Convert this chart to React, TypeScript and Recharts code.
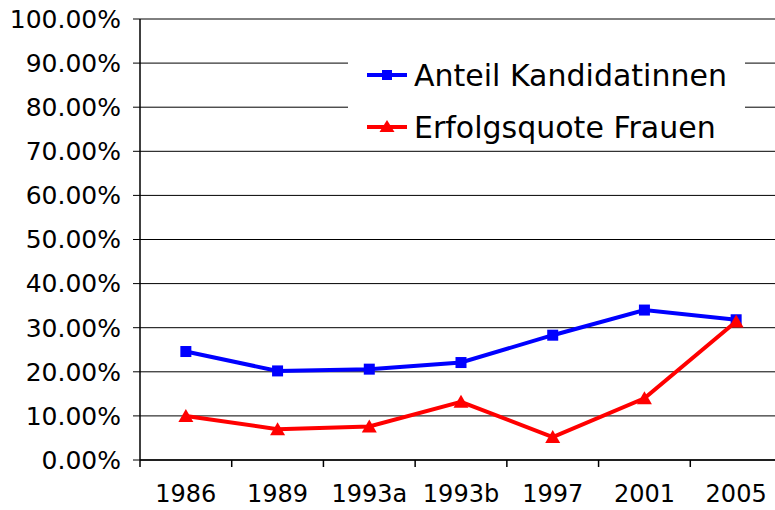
import { LineChart, Line, XAxis, YAxis, CartesianGrid, Legend } from "recharts";

const categories = ["1986", "1989", "1993a", "1993b", "1997", "2001", "2005"];
const anteilKandidatinnen = [0.246, 0.202, 0.206, 0.221, 0.283, 0.34, 0.318];
const erfolgsquoteFrauen = [0.1, 0.07, 0.076, 0.132, 0.052, 0.14, 0.314];
const yTicks = [0, 0.1, 0.2, 0.3, 0.4, 0.5, 0.6, 0.7, 0.8, 0.9, 1];
const seriesNames = ["Anteil Kandidatinnen", "Erfolgsquote Frauen"];

const FONT = '"DejaVu Sans", Verdana, sans-serif';
const BLUE = "#0000FF";
const RED = "#FF0000";

const data = categories.map((label, i) => ({
  pos: i + 0.5,
  label,
  anteil: anteilKandidatinnen[i],
  erfolg: erfolgsquoteFrauen[i],
}));

// ticks sit on the category boundaries, labels go in the middle of each band
const boundaryTicks = categories.map((_, i) => i).concat(categories.length);

function SquareDot(props: any) {
  const { cx, cy } = props;
  if (cx == null || cy == null) return null;
  return <rect x={cx - 5.5} y={cy - 5.5} width={11} height={11} fill={BLUE} />;
}

function TriangleDot(props: any) {
  const { cx, cy } = props;
  if (cx == null || cy == null) return null;
  return (
    <polygon
      points={`${cx},${cy - 7} ${cx - 7.5},${cy + 6} ${cx + 7.5},${cy + 6}`}
      fill={RED}
    />
  );
}

function CategoryTick(props: any) {
  const { x, y, payload, width } = props;
  const idx = Math.round(payload.value);
  if (idx >= categories.length) return <g />;
  const half = width / categories.length / 2;
  return (
    <text
      x={x + half}
      y={y}
      dy="0.71em"
      textAnchor="middle"
      fill="#000"
      fontSize={24}
      fontFamily={FONT}
    >
      {categories[idx]}
    </text>
  );
}

function LegendBox() {
  const rows = [
    { name: seriesNames[0], color: BLUE, shape: "square" },
    { name: seriesNames[1], color: RED, shape: "triangle" },
  ];
  return (
    <div
      style={{
        position: "relative",
        background: "#fff",
        width: 397,
        height: 100,
        fontFamily: FONT,
        fontSize: 30,
        color: "#000",
      }}
    >
      {rows.map((r, i) => (
        <div
          key={r.name}
          style={{
            position: "absolute",
            left: 19,
            top: 30 + i * 52 - 20,
            height: 40,
            display: "flex",
            alignItems: "center",
            whiteSpace: "nowrap",
          }}
        >
          <svg width={42} height={20} style={{ marginRight: 5 }}>
            <line x1={0} y1={10} x2={40} y2={10} stroke={r.color} strokeWidth={4} />
            {r.shape === "square" ? (
              <rect x={15} y={5} width={10} height={10} fill={r.color} />
            ) : (
              <polygon points="20,3 12.5,15 27.5,15" fill={r.color} />
            )}
          </svg>
          <span>{r.name}</span>
        </div>
      ))}
    </div>
  );
}

export default function App() {
  return (
    <div
      style={{
        position: "absolute",
        left: 0,
        top: 0,
        width: 775,
        height: 510,
        overflow: "hidden",
        background: "#fff",
      }}
    >
      <LineChart
        width={782}
        height={510}
        data={data}
        margin={{ top: 19, right: 0, left: 0, bottom: 0 }}
      >
        <CartesianGrid vertical={false} stroke="#000" strokeWidth={1} />
        <XAxis
          dataKey="pos"
          type="number"
          domain={[0, categories.length]}
          ticks={boundaryTicks}
          interval={0}
          tick={<CategoryTick />}
          tickSize={7}
          tickMargin={18}
          height={50}
          axisLine={{ stroke: "#000", strokeWidth: 1.5 }}
          tickLine={{ stroke: "#000", strokeWidth: 1.5 }}
        />
        <YAxis
          type="number"
          domain={[0, 1]}
          ticks={yTicks}
          interval={0}
          width={140}
          tickFormatter={(v: number) => (v * 100).toFixed(2) + "%"}
          tickSize={7}
          tickMargin={12}
          axisLine={{ stroke: "#000", strokeWidth: 1.5 }}
          tickLine={{ stroke: "#000", strokeWidth: 1 }}
          tick={{ fill: "#000", fontSize: 25, fontFamily: FONT }}
        />
        <Legend
          layout="horizontal"
          align="center"
          verticalAlign="middle"
          wrapperStyle={{ left: 348, top: 45, width: 397, height: 100 }}
          content={() => <LegendBox />}
        />
        <Line
          dataKey="anteil"
          name={seriesNames[0]}
          stroke={BLUE}
          strokeWidth={4}
          dot={<SquareDot />}
          activeDot={false}
          isAnimationActive={false}
        />
        <Line
          dataKey="erfolg"
          name={seriesNames[1]}
          stroke={RED}
          strokeWidth={4}
          dot={<TriangleDot />}
          activeDot={false}
          isAnimationActive={false}
        />
      </LineChart>
    </div>
  );
}
